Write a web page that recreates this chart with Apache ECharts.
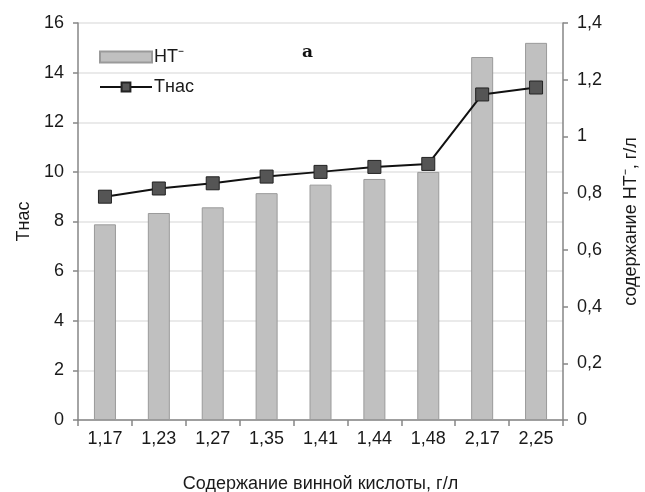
<!DOCTYPE html>
<html>
<head>
<meta charset="utf-8">
<script src="https://cdn.jsdelivr.net/npm/echarts@6/dist/echarts.min.js"></script>
<style>
  html, body { margin: 0; padding: 0; background: #fff; }
  #chart { width: 645px; height: 492px; }
</style>
</head>
<body>
<div id="chart"></div>
<script>
// Tartaric acid content, g/L (x categories)
const categories = ['1,17', '1,23', '1,27', '1,35', '1,41', '1,44', '1,48', '2,17', '2,25'];
// HT⁻ content, g/L (bars, right axis)
const htValues = [0.69, 0.73, 0.75, 0.80, 0.83, 0.85, 0.875, 1.28, 1.33];
// Saturation temperature Тнас (line, left axis)
const tsatValues = [9.0, 9.33, 9.54, 9.81, 10.0, 10.2, 10.32, 13.12, 13.4];

const FONT = 'Liberation Sans, Arial, sans-serif';
const TEXT = '#1a1a1a';
const AXIS = '#868686';
const FS = 18;

const comma = v => String(Math.round(v * 10) / 10).replace('.', ',');

const chart = echarts.init(document.getElementById('chart'), null, { renderer: 'canvas' });
chart.setOption({
  animation: false,
  backgroundColor: '#fff',
  textStyle: { fontFamily: FONT, color: TEXT },
  title: {
    text: 'a',
    left: 297,
    top: 39,
    padding: 5,
    textStyle: { fontFamily: 'DejaVu Serif, Liberation Serif, serif', fontWeight: 'bold', fontSize: 17, color: '#111' }
  },
  legend: {
    orient: 'vertical',
    left: 94,
    top: 43,
    padding: 5,
    itemWidth: 52,
    itemHeight: 11,
    itemGap: 12,
    textStyle: { fontFamily: FONT, fontSize: FS, color: TEXT, padding: [0, 0, 0, -3] },
    data: [
      { name: 'HT⁻', icon: 'rect' },
      { name: 'Тнас' }
    ]
  },
  grid: { left: 78, right: 82, top: 23, bottom: 72, outerBoundsMode: 'none', containLabel: false },
  xAxis: {
    type: 'category',
    data: categories,
    boundaryGap: true,
    name: 'Содержание винной кислоты, г/л',
    nameLocation: 'middle',
    nameGap: 55,
    nameTextStyle: { fontFamily: FONT, fontSize: FS, color: TEXT },
    axisLine: { lineStyle: { color: AXIS, width: 1.5 } },
    axisTick: { show: true, interval: 0, length: 6, lineStyle: { color: AXIS, width: 1.5 } },
    axisLabel: { fontFamily: FONT, fontSize: FS, color: TEXT, margin: 10, interval: 0 }
  },
  yAxis: [
    {
      type: 'value',
      min: 0, max: 16, interval: 2,
      name: 'Тнас',
      nameLocation: 'middle',
      nameRotate: 90,
      nameGap: 41,
      nameTextStyle: { fontFamily: FONT, fontSize: FS, color: TEXT },
      axisLine: { show: true, lineStyle: { color: AXIS, width: 1.5 } },
      axisTick: { show: true, length: 5, lineStyle: { color: AXIS, width: 1.5 } },
      axisLabel: { fontFamily: FONT, fontSize: FS, color: TEXT, margin: 14 },
      splitLine: { show: true, lineStyle: { color: '#e3e3e3', width: 1.5 } }
    },
    {
      type: 'value',
      min: 0, max: 1.4, interval: 0.2,
      name: 'содержание НТ⁻, г/л',
      nameLocation: 'middle',
      nameRotate: 90,
      nameGap: 59,
      nameTextStyle: { fontFamily: FONT, fontSize: FS, color: TEXT },
      axisLine: { show: true, lineStyle: { color: AXIS, width: 1.5 } },
      axisTick: { show: true, length: 5, lineStyle: { color: AXIS, width: 1.5 } },
      axisLabel: { fontFamily: FONT, fontSize: FS, color: TEXT, margin: 14, formatter: comma },
      splitLine: { show: false }
    }
  ],
  series: [
    {
      name: 'HT⁻',
      type: 'bar',
      yAxisIndex: 1,
      data: htValues,
      barWidth: 22,
      itemStyle: { color: '#c0c0c0', borderColor: '#9a9a9a', borderWidth: 1 }
    },
    {
      name: 'Тнас',
      type: 'line',
      yAxisIndex: 0,
      data: tsatValues,
      symbol: 'rect',
      symbolSize: 13,
      lineStyle: { color: '#111', width: 2 },
      itemStyle: { color: '#555', borderColor: '#222', borderWidth: 1 },
      z: 5
    }
  ]
});
</script>
</body>
</html>
